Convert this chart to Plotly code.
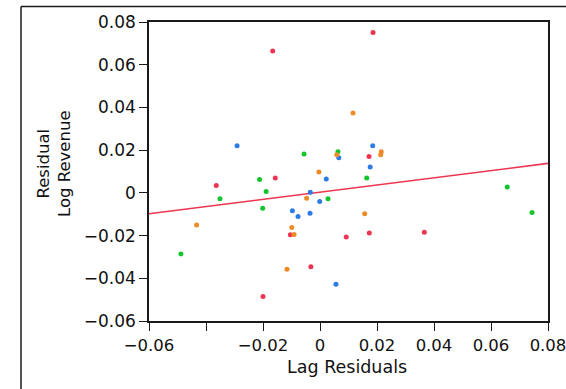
import plotly.graph_objects as go

# ---- data ----
red_x = [-0.0166, 0.0186, -0.0157, -0.0364, -0.0104, 0.0092, 0.0172, 0.0173, 0.0366, -0.0200, -0.0032]
red_y = [0.0664, 0.0751, 0.0070, 0.0034, -0.0196, -0.0207, 0.0170, -0.0188, -0.0184, -0.0485, -0.0346]

green_x = [-0.0056, 0.0063, -0.0212, -0.0189, -0.0351, 0.0028, -0.0201, 0.0164, 0.0657, 0.0744, -0.0488]
green_y = [0.0182, 0.0192, 0.0062, 0.0006, -0.0028, -0.0028, -0.0072, 0.0070, 0.0028, -0.0092, -0.0286]

blue_x = [-0.0291, 0.0066, 0.0022, -0.0034, -0.0001, -0.0097, -0.0077, -0.0035, 0.0185, 0.0176, 0.0056]
blue_y = [0.0220, 0.0164, 0.0065, 0.0003, -0.0041, -0.0084, -0.0111, -0.0095, 0.0221, 0.0121, -0.0428]

orange_x = [0.0116, 0.0059, -0.0004, -0.0047, -0.0433, -0.0099, -0.0091, 0.0215, 0.0213, 0.0157, -0.0116]
orange_y = [0.0374, 0.0179, 0.0098, -0.0025, -0.0151, -0.0162, -0.0195, 0.0192, 0.0179, -0.0098, -0.0358]

fit_intercept = 0.0003
fit_slope = 0.1686
fit_x = [-0.06, 0.08]

x_ticks = [-0.06, -0.04, -0.02, 0, 0.02, 0.04, 0.06, 0.08]
x_ticktext = ["\u22120.06", "", "\u22120.02", "0", "0.02", "0.04", "0.06", "0.08"]
y_ticks = [-0.06, -0.04, -0.02, 0, 0.02, 0.04, 0.06, 0.08]
y_ticktext = ["\u22120.06", "\u22120.04", "\u22120.02", "0", "0.02", "0.04", "0.06", "0.08"]

RED = "#ec3550"
GREEN = "#14c42c"
BLUE = "#2d7ce6"
ORANGE = "#ef8b27"

fig = go.Figure()
fig.add_trace(go.Scatter(x=fit_x, y=[fit_intercept + fit_slope * v for v in fit_x],
                         mode="lines", line=dict(color=RED, width=1.6), hoverinfo="skip"))
for xs, ys, c in [(red_x, red_y, RED), (green_x, green_y, GREEN),
                  (blue_x, blue_y, BLUE), (orange_x, orange_y, ORANGE)]:
    fig.add_trace(go.Scatter(x=xs, y=ys, mode="markers",
                             marker=dict(color=c, size=5, line=dict(width=0))))

FONT = "DejaVu Sans"
L, R, T, B = 149, 18, 22, 68
W, H = 566, 389
pw, ph = W - L - R, H - T - B

def px_to_paper_x(px):
    return (px - L) / pw

def px_to_paper_y(py):
    return (H - B - py) / ph

axis_common = dict(range=[-0.06, 0.08], showgrid=False, zeroline=False, showline=True,
                   mirror=True, linecolor="#1a1a1a", linewidth=1.6, ticks="outside",
                   ticklen=8, tickwidth=1.4, tickcolor="#1a1a1a",
                   automargin=False, ticklabeloverflow="allow")

fig.update_layout(
    width=W, height=H,
    margin=dict(l=L, r=R, t=T, b=B, autoexpand=False),
    paper_bgcolor="white", plot_bgcolor="white",
    showlegend=False,
    font=dict(family=FONT, size=17, color="#111"),
    xaxis=dict(tickvals=x_ticks, ticktext=x_ticktext, tickfont=dict(size=16.5), **axis_common),
    yaxis=dict(tickvals=y_ticks, ticktext=y_ticktext, tickfont=dict(size=17), **axis_common),
    annotations=[
        dict(text="Lag Residuals", xref="paper", yref="paper",
             x=px_to_paper_x(347), y=px_to_paper_y(367), xanchor="center", yanchor="middle",
             showarrow=False, font=dict(size=17.5, family=FONT)),
        dict(text="Residual<br>Log Revenue", xref="paper", yref="paper",
             x=px_to_paper_x(54), y=px_to_paper_y(164), xanchor="center", yanchor="middle",
             textangle=-90, showarrow=False, font=dict(size=16.5, family=FONT)),
    ],
    shapes=[
        dict(type="line", xref="paper", yref="paper",
             x0=px_to_paper_x(21), x1=px_to_paper_x(600),
             y0=px_to_paper_y(6.5), y1=px_to_paper_y(6.5),
             line=dict(color="#1a1a1a", width=1.5)),
        dict(type="line", xref="paper", yref="paper",
             x0=px_to_paper_x(21), x1=px_to_paper_x(21),
             y0=px_to_paper_y(6.5), y1=px_to_paper_y(420),
             line=dict(color="#1a1a1a", width=1.5)),
    ],
)

fig.write_html("out.html")
